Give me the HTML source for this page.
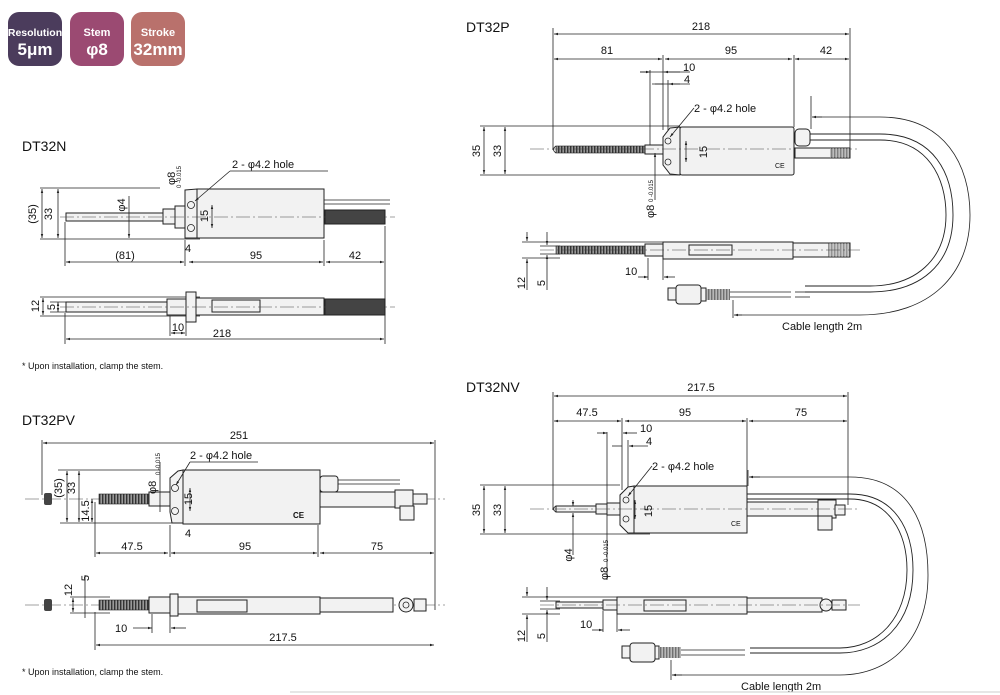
<!DOCTYPE html>
<html><head><meta charset="utf-8"><style>
html,body{margin:0;padding:0;background:#fff;width:1000px;height:695px;overflow:hidden}
svg{display:block}
text{font-family:"Liberation Sans",sans-serif;fill:#111}
.d{stroke:#222;stroke-width:0.8;fill:none}
.da{stroke:#222;stroke-width:0.8;fill:none;marker-start:url(#a);marker-end:url(#a)}
.b{fill:#f2f2f2;stroke:#222;stroke-width:1}
.c{stroke:#444;stroke-width:0.6;stroke-dasharray:14 3 2 3;fill:none}
.t{font-size:11px}
.th{font-size:14px}
.th2{fill:none;stroke:#222;stroke-width:0.9}
</style></head><body>
<svg width="1000" height="695" viewBox="0 0 1000 695">
<defs>
<marker id="a" viewBox="0 0 10 10" refX="10" refY="5" markerWidth="7" markerHeight="5" orient="auto-start-reverse"><path d="M0,2 L10,5 L0,8z" fill="#222"/></marker>
<pattern id="thr" width="3" height="10" patternUnits="userSpaceOnUse"><rect width="3" height="10" fill="#999"/><rect width="1.4" height="10" fill="#333"/></pattern>
</defs>

<!-- badges -->
<rect x="8" y="12" width="54" height="54" rx="11" fill="#4b3c5c"/>
<rect x="70" y="12" width="54" height="54" rx="11" fill="#9b4a72"/>
<rect x="131" y="12" width="54" height="54" rx="11" fill="#b9716c"/>
<g font-weight="bold" text-anchor="middle">
<text x="35" y="36" font-size="10.5" style="fill:#fff">Resolution</text>
<text x="35" y="55" font-size="17" style="fill:#fff">5μm</text>
<text x="97" y="36" font-size="11" style="fill:#fff">Stem</text>
<text x="97" y="55" font-size="17" style="fill:#fff">φ8</text>
<text x="158" y="36" font-size="11" style="fill:#fff">Stroke</text>
<text x="158" y="55" font-size="17" style="fill:#fff">32mm</text>
</g>

<!-- ============ DT32N ============ -->
<text x="22" y="151" class="th">DT32N</text>
<line class="d" x1="40" y1="188" x2="160" y2="188"/>
<line class="d" x1="40" y1="239" x2="200" y2="239"/>
<line class="da" x1="42" y1="189" x2="42" y2="238"/>
<line class="da" x1="58" y1="189" x2="58" y2="238"/>
<text class="t" transform="translate(36,214) rotate(-90)" text-anchor="middle">(35)</text>
<text class="t" transform="translate(52,214) rotate(-90)" text-anchor="middle">33</text>
<rect x="66" y="213" width="100" height="8" class="b"/>
<rect x="163" y="209" width="12" height="15" class="b"/>
<rect x="175" y="206" width="12" height="22" class="b"/>
<path d="M185,190 L197,189 L197,238 L185,238 L185,195z" class="b"/>
<circle cx="191" cy="205" r="3.5" class="d"/><circle cx="191" cy="228" r="3.5" class="d"/>
<rect x="197" y="189" width="127" height="49" class="b"/>
<line class="d" x1="324" y1="200" x2="390" y2="200"/><line class="d" x1="324" y1="204" x2="390" y2="204"/>
<rect x="325" y="210" width="60" height="14" fill="#444" stroke="#222"/>
<line class="c" x1="60" y1="217" x2="395" y2="217"/>
<line class="da" x1="129" y1="196" x2="129" y2="238" style="marker-start:none"/>
<text class="t" transform="translate(125,205) rotate(-90)" text-anchor="middle">φ4</text>
<text class="t" transform="translate(175,185) rotate(-90)">φ8</text>
<text transform="translate(181,188) rotate(-90)" font-size="6">0 -0.015</text>
<line class="da" x1="212" y1="205" x2="212" y2="228"/>
<text class="t" transform="translate(208,216) rotate(-90)" text-anchor="middle">15</text>
<text class="t" x="232" y="168">2 - φ4.2 hole</text>
<line class="d" x1="230" y1="171" x2="328" y2="171"/>
<line class="d" x1="230" y1="171" x2="195" y2="201" marker-end="url(#a)"/>
<line class="d" x1="65" y1="222" x2="65" y2="266"/><line class="d" x1="185" y1="240" x2="185" y2="266"/>
<line class="d" x1="324" y1="240" x2="324" y2="266"/><line class="d" x1="385" y1="226" x2="385" y2="344"/>
<line class="da" x1="66" y1="262" x2="184" y2="262"/>
<line class="da" x1="189" y1="262" x2="323" y2="262"/>
<line class="da" x1="326" y1="262" x2="384" y2="262"/>
<text class="t" x="125" y="259" text-anchor="middle">(81)</text>
<text class="t" x="256" y="259" text-anchor="middle">95</text>
<text class="t" x="355" y="259" text-anchor="middle">42</text>
<text class="t" x="188" y="252" text-anchor="middle">4</text>
<!-- N side view -->
<line class="d" x1="40" y1="297" x2="200" y2="297"/><line class="d" x1="40" y1="316" x2="200" y2="316"/>
<line class="d" x1="50" y1="302" x2="70" y2="302"/><line class="d" x1="50" y1="312" x2="70" y2="312"/>
<line class="da" x1="43" y1="298" x2="43" y2="315"/>
<line class="da" x1="58" y1="302" x2="58" y2="312"/>
<text class="t" transform="translate(39,306) rotate(-90)" text-anchor="middle">12</text>
<text class="t" transform="translate(55,307) rotate(-90)" text-anchor="middle">5</text>
<rect x="66" y="302" width="102" height="10" class="b"/>
<rect x="167" y="299" width="19" height="16" class="b"/>
<rect x="186" y="292" width="10" height="30" class="b"/>
<rect x="196" y="298" width="128" height="17" class="b"/>
<rect x="212" y="300" width="48" height="12" class="b"/>
<rect x="325" y="299" width="60" height="16" fill="#444" stroke="#222"/>
<line class="c" x1="60" y1="307" x2="395" y2="307"/>
<line class="d" x1="170" y1="316" x2="170" y2="336"/><line class="d" x1="186" y1="322" x2="186" y2="336"/>
<line class="da" x1="171" y1="333" x2="185" y2="333"/>
<text class="t" x="178" y="331" text-anchor="middle">10</text>
<line class="d" x1="65" y1="313" x2="65" y2="344"/>
<line class="da" x1="66" y1="339" x2="384" y2="339"/>
<text class="t" x="222" y="337" text-anchor="middle">218</text>
<text x="22" y="369" font-size="9">* Upon installation, clamp the stem.</text>

<!-- ============ DT32P ============ -->
<text x="466" y="32" class="th">DT32P</text>
<line class="d" x1="553" y1="28" x2="553" y2="150"/>
<line class="d" x1="850" y1="28" x2="850" y2="150"/>
<line class="da" x1="554" y1="34" x2="849" y2="34"/>
<text class="t" x="701" y="30" text-anchor="middle">218</text>
<line class="da" x1="554" y1="59" x2="662" y2="59"/>
<line class="da" x1="665" y1="59" x2="792" y2="59"/>
<line class="da" x1="795" y1="59" x2="849" y2="59"/>
<text class="t" x="607" y="54" text-anchor="middle">81</text>
<text class="t" x="731" y="54" text-anchor="middle">95</text>
<text class="t" x="826" y="54" text-anchor="middle">42</text>
<line class="d" x1="663" y1="55" x2="663" y2="130"/><line class="d" x1="794" y1="55" x2="794" y2="127"/>
<line class="d" x1="650" y1="70" x2="650" y2="146"/><line class="d" x1="668" y1="80" x2="668" y2="130"/>
<line class="d" x1="640" y1="72" x2="690" y2="72"/><line class="d" x1="652" y1="84" x2="690" y2="84"/>
<line class="d" x1="640" y1="72" x2="650" y2="72" marker-end="url(#a)"/><line class="d" x1="680" y1="72" x2="664" y2="72" marker-end="url(#a)"/>
<line class="d" x1="655" y1="84" x2="663" y2="84"/><line class="d" x1="680" y1="84" x2="669" y2="84" marker-end="url(#a)"/>
<text class="t" x="683" y="71">10</text><text class="t" x="684" y="83">4</text>
<line class="d" x1="480" y1="126" x2="680" y2="126"/><line class="d" x1="480" y1="175" x2="680" y2="175"/>
<line class="da" x1="484" y1="127" x2="484" y2="174"/>
<line class="da" x1="505" y1="127" x2="505" y2="174"/>
<text class="t" transform="translate(480,151) rotate(-90)" text-anchor="middle">35</text>
<text class="t" transform="translate(501,151) rotate(-90)" text-anchor="middle">33</text>
<rect x="556" y="146" width="90" height="7" fill="url(#thr)" stroke="#222" stroke-width="0.6"/>
<path d="M556,146 Q551,149.5 556,153" class="d"/>
<rect x="645" y="145" width="18" height="9" class="b"/>
<path d="M670,128 L680,127 L680,175 L670,174 L663,165 L663,137z" class="b"/>
<circle cx="668" cy="141" r="3" class="d"/><circle cx="668" cy="162" r="3" class="d"/>
<rect x="680" y="127" width="114" height="48" rx="2" class="b"/>
<text x="775" y="168" font-size="7">CE</text>
<line class="c" x1="530" y1="149" x2="860" y2="149"/>
<line class="da" x1="686" y1="141" x2="686" y2="162"/>
<text class="t" transform="translate(707,152) rotate(-90)" text-anchor="middle">15</text>
<text class="t" x="694" y="112">2 - φ4.2 hole</text>
<line class="d" x1="694" y1="108" x2="670" y2="137" marker-end="url(#a)"/>
<rect x="795" y="129" width="15" height="17" rx="4" class="b"/>
<rect x="795" y="148" width="55" height="10" class="b"/>
<rect x="830" y="148" width="20" height="10" fill="url(#thr)" opacity="0.6"/>
<path d="M810,134 L880,134 C935,134 953,175 953,215 C953,265 920,292 870,292 L805,292" class="th2"/>
<path d="M810,140 L880,140 C928,140 946,178 946,215 C946,260 915,286 870,286 L805,286" class="th2"/>
<line class="d" x1="811" y1="96" x2="811" y2="129"/>
<path d="M813,117 L880,117 C945,117 970,165 970,215 C970,275 930,315 860,315 L736,315" class="d"/>
<line class="d" x1="822" y1="117" x2="812" y2="117" marker-end="url(#a)"/>
<line class="d" x1="742" y1="315" x2="734" y2="315" marker-end="url(#a)"/>
<line class="d" x1="733" y1="300" x2="733" y2="318"/>
<text class="t" x="782" y="330">Cable length 2m</text>
<line class="da" x1="655" y1="153" x2="655" y2="200" style="marker-end:none"/>
<text class="t" transform="translate(654,218) rotate(-90)">φ8</text>
<text transform="translate(653,202) rotate(-90)" font-size="6">0 -0.015</text>
<!-- P side -->
<line class="d" x1="522" y1="242" x2="680" y2="242"/><line class="d" x1="522" y1="258" x2="560" y2="258"/>
<line class="d" x1="540" y1="246" x2="560" y2="246"/><line class="d" x1="540" y1="254" x2="560" y2="254"/>
<line class="d" x1="527" y1="232" x2="527" y2="241" marker-end="url(#a)"/><line class="d" x1="527" y1="290" x2="527" y2="259" marker-end="url(#a)"/>
<line class="d" x1="547" y1="232" x2="547" y2="245" marker-end="url(#a)"/><line class="d" x1="547" y1="290" x2="547" y2="255" marker-end="url(#a)"/>
<text class="t" transform="translate(525,283) rotate(-90)" text-anchor="middle">12</text>
<text class="t" transform="translate(545,283) rotate(-90)" text-anchor="middle">5</text>
<rect x="556" y="246" width="90" height="8" fill="url(#thr)" stroke="#222" stroke-width="0.6"/>
<rect x="645" y="244" width="18" height="12" class="b"/>
<rect x="663" y="242" width="130" height="17" class="b"/>
<rect x="689" y="245" width="43" height="10" class="b"/>
<rect x="793" y="243" width="57" height="14" class="b"/>
<rect x="828" y="243" width="22" height="14" fill="url(#thr)" opacity="0.5"/>
<line class="c" x1="540" y1="250" x2="860" y2="250"/>
<line class="d" x1="648" y1="258" x2="648" y2="280"/><line class="d" x1="663" y1="259" x2="663" y2="280"/>
<line class="d" x1="638" y1="277" x2="648" y2="277" marker-end="url(#a)"/><line class="d" x1="675" y1="277" x2="664" y2="277" marker-end="url(#a)"/>
<text class="t" x="625" y="275">10</text>
<rect x="668" y="288" width="10" height="12" class="b"/>
<rect x="676" y="285" width="25" height="19" rx="3" class="b"/>
<rect x="701" y="288" width="5" height="13" class="b"/>
<rect x="706" y="289" width="24" height="11" fill="url(#thr)" opacity="0.7"/>
<line class="d" x1="730" y1="292" x2="791" y2="292"/><line class="d" x1="730" y1="297" x2="791" y2="297"/>
<line class="d" x1="795" y1="292" x2="810" y2="292"/><line class="d" x1="795" y1="297" x2="810" y2="297"/>

<!-- ============ DT32PV ============ -->
<text x="22" y="425" class="th">DT32PV</text>
<line class="d" x1="42" y1="440" x2="42" y2="495"/><line class="d" x1="435" y1="440" x2="435" y2="610"/>
<line class="da" x1="43" y1="443" x2="434" y2="443"/>
<text class="t" x="239" y="439" text-anchor="middle">251</text>
<line class="c" x1="25" y1="499" x2="445" y2="499"/>
<rect x="44" y="493" width="8" height="12" rx="2" fill="#444"/>
<line class="d" x1="58" y1="470" x2="160" y2="470"/><line class="d" x1="60" y1="523" x2="175" y2="523"/>
<line class="da" x1="67" y1="471" x2="67" y2="522"/>
<line class="da" x1="79" y1="471" x2="79" y2="522"/>
<line class="da" x1="92" y1="499" x2="92" y2="522"/>
<text class="t" transform="translate(62,488) rotate(-90)" text-anchor="middle">(35)</text>
<text class="t" transform="translate(75,488) rotate(-90)" text-anchor="middle">33</text>
<text class="t" transform="translate(89,511) rotate(-90)" text-anchor="middle">14.5</text>
<rect x="99" y="494" width="50" height="10" fill="url(#thr)" stroke="#222" stroke-width="0.6"/>
<rect x="149" y="492" width="23" height="14" class="b"/>
<path d="M178,471 L183,470 L183,523 L172,523 L170,512 L170,478z" class="b"/>
<circle cx="175" cy="488" r="3.5" class="d"/><circle cx="175" cy="511" r="3.5" class="d"/>
<rect x="183" y="470" width="137" height="54" class="b"/>
<text x="293" y="518" font-size="8" font-weight="bold">CE</text>
<rect x="320" y="476" width="18" height="16" rx="3" class="b"/>
<line class="d" x1="338" y1="480" x2="400" y2="480"/><line class="d" x1="338" y1="484" x2="400" y2="484"/>
<rect x="320" y="492" width="75" height="15" class="b"/>
<rect x="395" y="490" width="18" height="18" class="b"/>
<rect x="400" y="506" width="14" height="14" class="b"/>
<rect x="413" y="494" width="14" height="10" class="b"/>
<line class="da" x1="190" y1="488" x2="190" y2="511"/>
<text class="t" transform="translate(192,499) rotate(-90)" text-anchor="middle">15</text>
<text class="t" transform="translate(156,494) rotate(-90)">φ8</text>
<text transform="translate(160,475) rotate(-90)" font-size="6">0 -0.015</text>
<line class="d" x1="160" y1="462" x2="160" y2="512"/>
<text class="t" x="190" y="459">2 - φ4.2 hole</text>
<line class="d" x1="190" y1="462" x2="258" y2="462"/>
<line class="d" x1="190" y1="462" x2="176" y2="485" marker-end="url(#a)"/>
<line class="d" x1="95" y1="502" x2="95" y2="557"/><line class="d" x1="170" y1="525" x2="170" y2="557"/><line class="d" x1="318" y1="525" x2="318" y2="557"/>
<line class="da" x1="96" y1="553" x2="168" y2="553"/>
<line class="da" x1="171" y1="553" x2="317" y2="553"/>
<line class="da" x1="320" y1="553" x2="434" y2="553"/>
<text class="t" x="132" y="550" text-anchor="middle">47.5</text>
<text class="t" x="245" y="550" text-anchor="middle">95</text>
<text class="t" x="377" y="550" text-anchor="middle">75</text>
<text class="t" x="188" y="537" text-anchor="middle">4</text>
<!-- PV side -->
<line class="c" x1="25" y1="605" x2="445" y2="605"/>
<rect x="44" y="599" width="8" height="12" rx="2" fill="#444"/>
<line class="d" x1="70" y1="597" x2="110" y2="597"/><line class="d" x1="70" y1="613" x2="110" y2="613"/>
<line class="da" x1="73" y1="598" x2="73" y2="612"/>
<line class="d" x1="85" y1="575" x2="85" y2="618"/>
<text class="t" transform="translate(72,590) rotate(-90)" text-anchor="middle">12</text>
<text class="t" transform="translate(89,578) rotate(-90)" text-anchor="middle">5</text>
<rect x="99" y="600" width="50" height="10" fill="url(#thr)" stroke="#222" stroke-width="0.6"/>
<rect x="149" y="597" width="22" height="16" class="b"/>
<rect x="170" y="594" width="8" height="22" class="b"/>
<rect x="178" y="597" width="142" height="17" class="b"/>
<rect x="197" y="600" width="50" height="12" class="b"/>
<rect x="320" y="598" width="73" height="14" class="b"/>
<circle cx="406" cy="605" r="7" class="b"/><circle cx="406" cy="605" r="3" class="d"/>
<rect x="414" y="599" width="12" height="12" class="b"/>
<line class="d" x1="152" y1="614" x2="152" y2="633"/><line class="d" x1="170" y1="616" x2="170" y2="633"/>
<line class="d" x1="133" y1="628" x2="152" y2="628" marker-end="url(#a)"/><line class="d" x1="186" y1="628" x2="171" y2="628" marker-end="url(#a)"/>
<text class="t" x="115" y="632">10</text>
<line class="d" x1="95" y1="612" x2="95" y2="650"/>
<line class="da" x1="96" y1="645" x2="434" y2="645"/>
<text class="t" x="283" y="641" text-anchor="middle">217.5</text>
<text x="22" y="675" font-size="9">* Upon installation, clamp the stem.</text>

<!-- ============ DT32NV ============ -->
<text x="466" y="392" class="th">DT32NV</text>
<line class="d" x1="553" y1="392" x2="553" y2="510"/><line class="d" x1="848" y1="392" x2="848" y2="505"/>
<line class="da" x1="554" y1="396" x2="847" y2="396"/>
<text class="t" x="701" y="391" text-anchor="middle">217.5</text>
<line class="da" x1="554" y1="421" x2="621" y2="421"/>
<line class="da" x1="625" y1="421" x2="746" y2="421"/>
<line class="da" x1="749" y1="421" x2="847" y2="421"/>
<text class="t" x="587" y="416" text-anchor="middle">47.5</text>
<text class="t" x="685" y="416" text-anchor="middle">95</text>
<text class="t" x="801" y="416" text-anchor="middle">75</text>
<line class="d" x1="622" y1="418" x2="622" y2="490"/><line class="d" x1="747" y1="418" x2="747" y2="486"/>
<line class="d" x1="607" y1="432" x2="607" y2="580"/><line class="d" x1="628" y1="440" x2="628" y2="490"/>
<line class="d" x1="597" y1="433" x2="607" y2="433" marker-end="url(#a)"/><line class="d" x1="637" y1="433" x2="623" y2="433" marker-end="url(#a)"/>
<line class="d" x1="612" y1="446" x2="622" y2="446"/><line class="d" x1="648" y1="446" x2="629" y2="446" marker-end="url(#a)"/>
<text class="t" x="640" y="432">10</text><text class="t" x="646" y="445">4</text>
<line class="d" x1="480" y1="485" x2="620" y2="485"/><line class="d" x1="480" y1="534" x2="650" y2="534"/>
<line class="da" x1="484" y1="486" x2="484" y2="533"/>
<line class="da" x1="505" y1="486" x2="505" y2="533"/>
<text class="t" transform="translate(480,510) rotate(-90)" text-anchor="middle">35</text>
<text class="t" transform="translate(501,510) rotate(-90)" text-anchor="middle">33</text>
<rect x="556" y="506" width="50" height="6" class="b"/>
<path d="M556,506 Q551,509 556,512" class="d"/>
<rect x="596" y="504" width="12" height="10" class="b"/>
<rect x="607" y="503" width="15" height="12" class="b"/>
<path d="M628,487 L634,486 L634,533 L628,533 L620,525 L620,495z" class="b"/>
<circle cx="626" cy="500" r="3" class="d"/><circle cx="626" cy="519" r="3" class="d"/>
<rect x="634" y="486" width="113" height="47" class="b"/>
<text x="731" y="526" font-size="7">CE</text>
<rect x="747" y="502" width="75" height="14" class="b"/>
<rect x="818" y="500" width="18" height="18" class="b"/>
<rect x="818" y="516" width="14" height="14" class="b"/>
<rect x="835" y="505" width="10" height="10" class="b"/>
<line class="c" x1="530" y1="509" x2="860" y2="509"/>
<line class="da" x1="635" y1="500" x2="635" y2="519"/>
<text class="t" transform="translate(652,511) rotate(-90)" text-anchor="middle">15</text>
<text class="t" x="652" y="470">2 - φ4.2 hole</text>
<line class="d" x1="652" y1="466" x2="628" y2="496" marker-end="url(#a)"/>
<line class="d" x1="573" y1="500" x2="573" y2="506" marker-end="url(#a)"/><line class="d" x1="573" y1="555" x2="573" y2="513" marker-end="url(#a)"/>
<text class="t" transform="translate(572,555) rotate(-90)" text-anchor="middle">φ4</text>
<text class="t" transform="translate(608,580) rotate(-90)">φ8</text>
<text transform="translate(608,562) rotate(-90)" font-size="6">0 -0.015</text>
<path d="M747,494 L850,494 C895,494 913,530 913,570 C913,625 880,653 840,653 L750,653" class="th2"/>
<path d="M747,499 L850,499 C889,499 907,533 907,570 C907,620 876,648 840,648 L750,648" class="th2"/>
<line class="d" x1="748" y1="470" x2="748" y2="486"/>
<path d="M751,477 L850,477 C910,477 928,525 928,575 C928,640 890,675 840,675 L674,675" class="d"/>
<line class="d" x1="760" y1="477" x2="749" y2="477" marker-end="url(#a)"/>
<line class="d" x1="682" y1="675" x2="672" y2="675" marker-end="url(#a)"/>
<line class="d" x1="671" y1="660" x2="671" y2="680"/>
<text class="t" x="741" y="690">Cable length 2m</text>
<!-- NV side -->
<line class="d" x1="522" y1="597" x2="620" y2="597"/><line class="d" x1="522" y1="614" x2="560" y2="614"/>
<line class="d" x1="540" y1="601" x2="560" y2="601"/><line class="d" x1="540" y1="609" x2="560" y2="609"/>
<line class="d" x1="527" y1="587" x2="527" y2="596" marker-end="url(#a)"/><line class="d" x1="527" y1="642" x2="527" y2="615" marker-end="url(#a)"/>
<line class="d" x1="547" y1="587" x2="547" y2="600" marker-end="url(#a)"/><line class="d" x1="547" y1="642" x2="547" y2="610" marker-end="url(#a)"/>
<text class="t" transform="translate(525,636) rotate(-90)" text-anchor="middle">12</text>
<text class="t" transform="translate(545,636) rotate(-90)" text-anchor="middle">5</text>
<rect x="556" y="602" width="50" height="6" class="b"/>
<rect x="603" y="600" width="20" height="10" class="b"/>
<rect x="617" y="597" width="130" height="17" class="b"/>
<rect x="644" y="600" width="42" height="11" class="b"/>
<rect x="747" y="598" width="75" height="14" class="b"/>
<circle cx="826" cy="605" r="6" class="b"/>
<rect x="832" y="600" width="14" height="10" class="b"/>
<line class="c" x1="540" y1="605" x2="860" y2="605"/>
<line class="d" x1="603" y1="611" x2="603" y2="632"/><line class="d" x1="617" y1="614" x2="617" y2="632"/>
<line class="d" x1="592" y1="630" x2="603" y2="630" marker-end="url(#a)"/><line class="d" x1="630" y1="630" x2="618" y2="630" marker-end="url(#a)"/>
<text class="t" x="580" y="628">10</text>
<rect x="622" y="646" width="8" height="12" class="b"/>
<rect x="630" y="643" width="25" height="19" rx="3" class="b"/>
<rect x="655" y="646" width="4" height="13" class="b"/>
<rect x="659" y="647" width="22" height="11" fill="url(#thr)" opacity="0.7"/>
<line class="d" x1="681" y1="650" x2="745" y2="650"/><line class="d" x1="681" y1="655" x2="745" y2="655"/>
<line x1="290" y1="692" x2="1000" y2="692" stroke="#ccc" stroke-width="1"/>
</svg>
</body></html>
